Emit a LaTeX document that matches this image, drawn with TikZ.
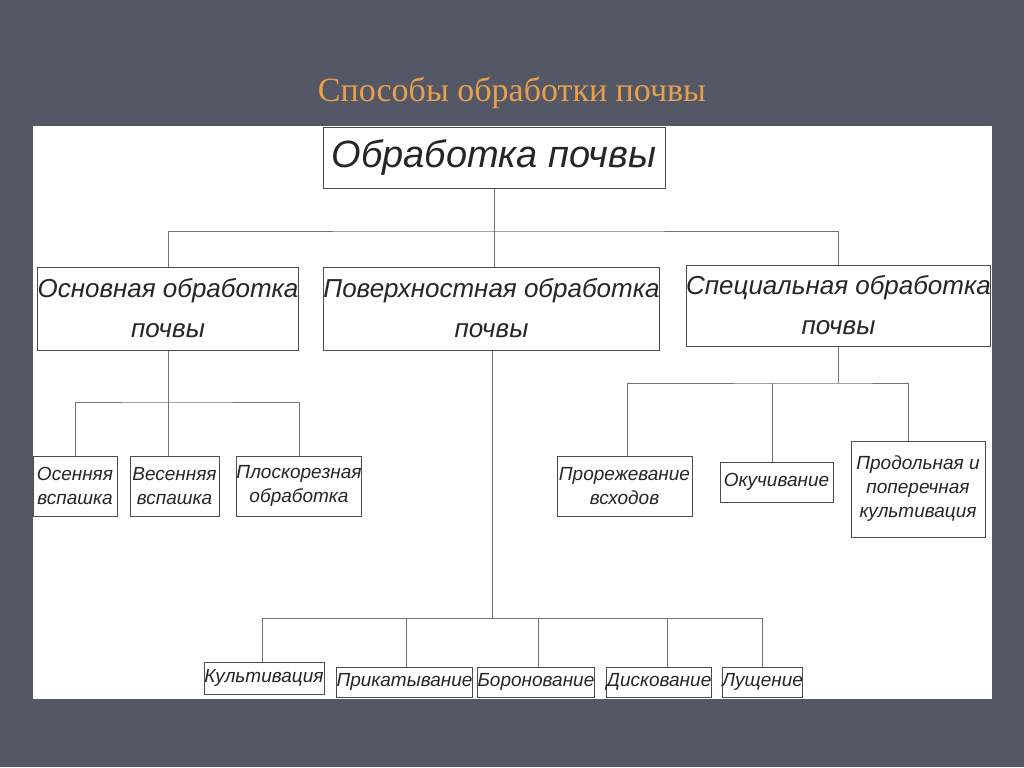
\documentclass[tikz,border=0pt]{standalone}
\usepackage{fontspec}
\setmainfont{Liberation Serif}
\newfontfamily\gost{Liberation Sans}
\begin{document}
\begin{tikzpicture}[x=0.5pt,y=-0.5pt,
  box/.style={draw=black!70,line width=0.5pt,fill=white,inner sep=0pt,align=center,font=\gost\itshape,text=black!85},
  ln/.style={draw=black!55,line width=0.5pt}]
\fill[fill={rgb,255:red,84;green,87;blue,102}] (0,0) rectangle (1024,767);
\useasboundingbox (0,0) rectangle (1024,767);
\fill[white] (33,126) rectangle (992,699);
\node[font=\fontsize{17}{20}\selectfont,text={rgb,255:red,232;green,160;blue,74}] (title) at (512,93) {Способы обработки почвы};
% boxes
\node[box,minimum width=171pt,minimum height=30.5pt,font=\gost\itshape\fontsize{19}{22}\selectfont] (top) at (494,157.5) {Обработка почвы};
\node[box,minimum width=130pt,minimum height=41.5pt,font=\gost\itshape\fontsize{13}{20}\selectfont] (osn) at (168,308.5) {Основная обработка\\почвы};
\node[box,minimum width=163.5pt,minimum height=41.5pt,font=\gost\itshape\fontsize{13}{20}\selectfont] (pov) at (491.5,308.5) {Поверхностная обработка\\почвы};
\node[box,minimum width=151.5pt,minimum height=40.5pt,font=\gost\itshape\fontsize{13}{20}\selectfont] (spec) at (838.5,305.5) {Специальная обработка\\почвы};
\tikzset{sm/.style={box,font=\gost\itshape\fontsize{9.5}{12}\selectfont}}
\node[sm,minimum width=42pt,minimum height=30pt] (ose) at (75,486) {Осенняя\\вспашка};
\node[sm,minimum width=44.5pt,minimum height=30pt] (ves) at (174.5,486) {Весенняя\\вспашка};
\node[sm,minimum width=61pt,minimum height=30pt] (plo) at (299,486) {Плоскорезная\\обработка};
\node[sm,minimum width=67.5pt,minimum height=30pt] (pro) at (624.5,486) {Прорежевание\\всходов};
\node[sm,minimum width=56.5pt,minimum height=20pt] (oku) at (776.5,482) {Окучивание};
\node[sm,minimum width=67pt,minimum height=48pt] (prd) at (918,489) {Продольная и\\поперечная\\культивация};
\node[sm,minimum width=60pt,minimum height=16pt] (kul) at (264,678) {Культивация};
\node[sm,minimum width=60.5pt,minimum height=15pt] (pri) at (404.5,682) {Прикатывание};
\node[sm,minimum width=55pt,minimum height=15pt] (bor) at (536,682) {Боронование};
\node[sm,minimum width=52pt,minimum height=15pt] (dis) at (659,682) {Дискование};
\node[sm,minimum width=38.5pt,minimum height=15pt] (lus) at (762.5,682) {Лущение};
% connectors
\coordinate (j1) at (494,231);
\draw[ln] (top.south) -- (j1);
\draw[ln] (osn.north) |- (j1) -| (spec.north);
\draw[ln] (j1) -- (494,267);
\coordinate (j2) at (168,402);
\draw[ln] (osn.south) -- (j2);
\draw[ln] (ose.north) |- (j2) -| (plo.north);
\draw[ln] (j2) -- (ves.north -| j2);
\coordinate (j3) at (492,618);
\draw[ln] (pov.south -| j3) -- (j3);
\draw[ln] (kul.north -| 262,0) |- (j3) -| (lus.north);
\draw[ln] (406,618) -- (pri.north -| 406,0);
\draw[ln] (538,618) -- (bor.north -| 538,0);
\draw[ln] (667,618) -- (dis.north -| 667,0);
\coordinate (j4) at (838,383);
\draw[ln] (spec.south -| j4) -- (j4);
\draw[ln] (pro.north -| 627,0) |- (j4) -| (prd.north -| 908,0);
\draw[ln] (772,383) -- (oku.north -| 772,0);
\end{tikzpicture}
\end{document}
